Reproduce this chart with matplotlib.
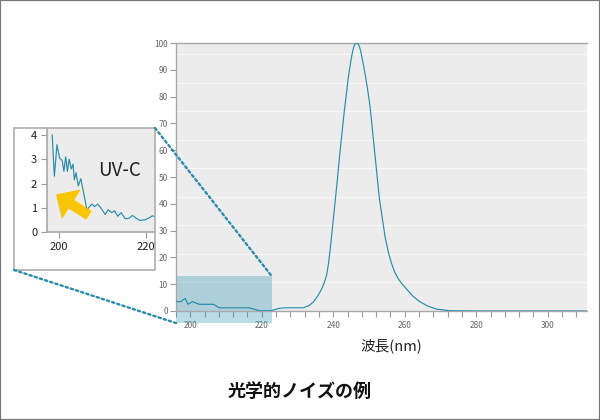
import matplotlib
matplotlib.use("Agg")
import matplotlib.pyplot as plt
from matplotlib.patches import Rectangle, ConnectionPatch

plt.rcParams['font.family'] = ['Noto Sans CJK JP', 'DejaVu Sans']

# ---- data ----
main_wavelength = [196, 197.4, 198.5, 199.4, 200.6, 202.5, 206.5, 208.1, 216.5, 219.3,
                   222.5, 224.9, 226.5, 231.6, 233.2, 234.4, 235.6, 236.8, 237.6, 238.2,
                   238.7, 239.1, 240.0, 241.0, 241.9, 243.0, 244.2, 245.0, 245.5, 245.9,
                   246.3, 246.6, 246.9, 247.3, 247.7, 248.2, 248.9, 249.6, 250.3, 251.5,
                   252.9, 254.5, 255.4, 256.3, 257.2, 258.2, 259.3, 260.5, 262.3, 264.2,
                   266.5, 268.9, 272.6, 280, 290, 300, 311]
main_signal = [3.5, 3.5, 4.7, 2.5, 3.5, 2.5, 2.5, 1.2, 1.2, 0.1,
               0.1, 1.0, 1.2, 1.2, 2.0, 3.3, 5.5, 8.3, 11.0, 13.8,
               18.0, 22.5, 34.0, 47.0, 59.5, 73.5, 87.0, 94.0, 97.3, 99.2,
               99.9, 100, 99.8, 98.8, 96.8, 93.5, 88.5, 82.8, 76.3, 60.5,
               42.0, 27.7, 22.0, 17.8, 14.5, 12.0, 10.0, 8.2, 5.5, 3.5,
               1.8, 0.7, 0.1, 0, 0, 0, 0]

inset_wavelength = [198.4, 198.9, 199.5, 200.1, 200.7, 201.1, 201.5, 201.9, 202.3, 202.8,
                    203.2, 203.5, 203.9, 204.4, 205.0, 206.4, 207.5, 208.2, 208.9, 209.8,
                    210.6, 211.3, 212.1, 212.8, 213.5, 214.3, 215.2, 216.0, 216.9, 217.9,
                    218.6, 219.8, 220.9, 221.5, 222.4]
inset_signal = [4.0, 2.3, 3.6, 3.05, 2.95, 2.5, 3.1, 2.5, 3.0, 2.6,
                2.8, 2.15, 2.45, 1.9, 2.2, 0.92, 1.15, 1.05, 1.15, 0.95,
                0.72, 0.92, 0.8, 0.87, 0.65, 0.8, 0.55, 0.56, 0.68, 0.55,
                0.48, 0.5, 0.6, 0.67, 0.6]

main_yticks = [0, 10, 20, 30, 40, 50, 60, 70, 80, 90, 100]
main_xticks = [200, 220, 240, 260, 280, 300]
inset_yticks = [0, 1, 2, 3, 4]
inset_xticks = [200, 220]

xlabel = "波長(nm)"
title = "光学的ノイズの例"
inset_label = "UV-C"

# ---- style ----
LINE = '#2a8caa'
BG = '#ececec'
SPINE = '#a8a8a8'

W, H = 600, 420
fig = plt.figure(figsize=(6, 4.2), dpi=100)

def fx(px):
    return px / W

def fy(py):
    return 1 - py / H

# figure border
fig.patches.append(Rectangle((0, 0), 1, 1, transform=fig.transFigure, fill=False,
                             edgecolor='#777777', lw=1.6, zorder=20))

# ---- main axes ----
ax = fig.add_axes([fx(176), fy(311), fx(587 - 176), (311 - 43) / H])
ax.set_facecolor(BG)
ax.set_xlim(196, 311)
ax.set_ylim(0, 100)
for lv in [10.65 * k for k in range(1, 10)]:
    ax.axhline(lv, color='#f8f8f8', lw=0.75, zorder=0.5)
ax.plot(main_wavelength, main_signal, color=LINE, lw=0.85, zorder=3)

ax.set_yticks(main_yticks)
ax.set_yticklabels([str(v) for v in main_yticks])
ax.set_xticks(main_xticks)
ax.set_xticklabels([str(v) for v in main_xticks])
ax.set_xticks([196 + 4 * i for i in range(29)], minor=True)
ax.tick_params(axis='both', which='both', colors='#9a9a9a', length=4, width=0.8,
               labelsize=6, labelcolor='#666666', pad=2)
ax.tick_params(axis='x', which='major', pad=3)
for s in ['left', 'bottom', 'top']:
    ax.spines[s].set_color(SPINE)
    ax.spines[s].set_linewidth(1.0)
ax.spines['right'].set_visible(False)

# highlighted zoom region
ax.add_patch(Rectangle((196, -4.5), 222.8 - 196, 13 + 4.5, facecolor='#2f96b2',
                       alpha=0.33, edgecolor='none', clip_on=False, zorder=2))

fig.text(fx(391), fy(346), xlabel, ha='center', va='center', fontsize=10.5, color='#222222')
fig.text(0.5, fy(391), title, ha='center', va='center', fontsize=13,
         fontweight='bold', color='#111111')

# ---- inset ----
fig.patches.append(Rectangle((fx(14), fy(270)), fx(141), 142 / H, transform=fig.transFigure,
                             facecolor='white', edgecolor='none', zorder=-1))
fig.patches.append(Rectangle((fx(14), fy(270)), fx(141), 142 / H, transform=fig.transFigure,
                             fill=False, edgecolor='#b4b4b4', lw=1.3, zorder=6))

axi = fig.add_axes([fx(47), fy(232), fx(155 - 47), (232 - 128) / H])
axi.set_facecolor(BG)
axi.set_xlim(197.2, 222.1)
axi.set_ylim(0, 4.29)
axi.plot(inset_wavelength, inset_signal, color=LINE, lw=0.85, zorder=3)
axi.set_xticks(inset_xticks)
axi.set_xticklabels([str(v) for v in inset_xticks])
axi.set_yticks(inset_yticks)
axi.set_yticklabels([str(v) for v in inset_yticks])
axi.tick_params(axis='both', colors='#9a9a9a', length=4, width=0.8, labelsize=8,
                labelcolor='#222222', pad=3)
for s in ['left', 'bottom']:
    axi.spines[s].set_color(SPINE)
    axi.spines[s].set_linewidth(1.2)
for s in ['top', 'right']:
    axi.spines[s].set_visible(False)

axi.text(0.67, 0.59, inset_label, transform=axi.transAxes, ha='center', va='center',
         fontsize=13.5, color='#222222')

# yellow arrow
axi.annotate('', xy=(56.7, H - 195), xycoords='figure pixels',
             xytext=(88.3, H - 215), textcoords='figure pixels',
             arrowprops=dict(arrowstyle='simple,head_length=0.6,head_width=1.15,tail_width=0.32',
                             mutation_scale=20, color='#f8c600', shrinkA=0, shrinkB=0),
             zorder=5)

# dotted connectors
c1 = ConnectionPatch(xyA=(1, 1), coordsA=axi.transAxes, xyB=(222.8, 13), coordsB=ax.transData,
                     color=LINE, lw=1.7, linestyle=(0, (1, 1.3)), zorder=10)
fig.add_artist(c1)
c2 = ConnectionPatch(xyA=(fx(14), fy(270)), coordsA=fig.transFigure, xyB=(196, -4.5),
                     coordsB=ax.transData, color=LINE, lw=1.7, linestyle=(0, (1, 1.3)), zorder=10)
fig.add_artist(c2)

fig.savefig('out.png', dpi=100)
